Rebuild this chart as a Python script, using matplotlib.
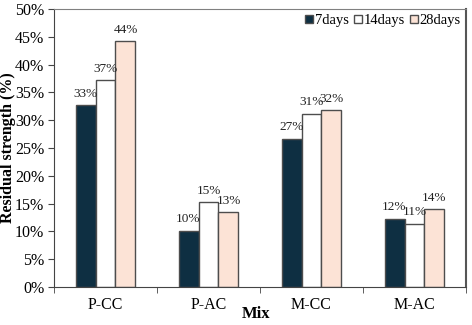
import numpy as np
import matplotlib
matplotlib.use("Agg")
from matplotlib import pyplot as plt
from matplotlib.ticker import PercentFormatter, MultipleLocator

plt.rcParams['font.family'] = ['Liberation Serif', 'DejaVu Serif']

mixes = ["P-CC", "P-AC", "M-CC", "M-AC"]
ages = ["7days", "14days", "28days"]
days7 = [32.7, 10.1, 26.7, 12.3]
days14 = [37.2, 15.2, 31.2, 11.4]
days28 = [44.2, 13.4, 31.8, 14.0]

colors = ["#0E2F42", "#FFFFFF", "#FCE3D6"]
edge = "#4D4D4D"

fig = plt.figure(figsize=(4.72, 3.25), dpi=100)
ax = fig.add_axes([54 / 472, 38 / 325, 412 / 472, 278 / 325])

x = np.arange(len(mixes))
w = 0.194
for i, (vals, lab) in enumerate(zip([days7, days14, days28], ages)):
    pos = x + (i - 1) * w
    ax.bar(pos, vals, w, color=colors[i], edgecolor=edge, linewidth=1.0,
           label=lab)
    for px, v in zip(pos, vals):
        ax.text(px, v + 1.0, f"{round(v):.0f}%", ha="center", va="bottom",
                fontsize=9.5, color="#222222")

ax.set_xlim(-0.5, len(mixes) - 0.5)
ax.set_ylim(0, 50)
ax.yaxis.set_major_locator(MultipleLocator(5))
ax.yaxis.set_major_formatter(PercentFormatter(decimals=0))
ax.set_xticks(x)
ax.set_xticklabels(mixes)
ax.set_xticks(np.arange(-0.5, len(mixes)), minor=True)
ax.tick_params(axis="x", which="major", length=0, pad=7, labelsize=11.5)
ax.tick_params(axis="x", which="minor", length=4, direction="out",
               color="#444444")
ax.tick_params(axis="y", length=4, direction="out", labelsize=11.5,
               color="#444444", pad=3)

for side in ["top", "right"]:
    ax.spines[side].set_color("#808080")
ax.spines["right"].set_color("#555555")
ax.spines["right"].set_linewidth(1.5)
for side in ["left", "bottom"]:
    ax.spines[side].set_color("#444444")

ax.set_xlabel("Mix", fontweight="bold", fontsize=12)
ax.xaxis.set_label_coords(0.49, -0.07, transform=ax.transAxes)
ax.xaxis.label.set_va("top")
ax.set_ylabel("Residual strength (%)", fontweight="bold", fontsize=11.5)
ax.yaxis.set_label_coords(-0.112, 0.5, transform=ax.transAxes)
ax.yaxis.label.set_va("center")

ax.legend(loc="upper right", ncol=3, frameon=False, fontsize=10.5,
          handlelength=0.55, handleheight=0.55, handletextpad=0.15,
          columnspacing=0.3, borderaxespad=0.1, borderpad=0.25)

fig.savefig("out.png", dpi=100)
